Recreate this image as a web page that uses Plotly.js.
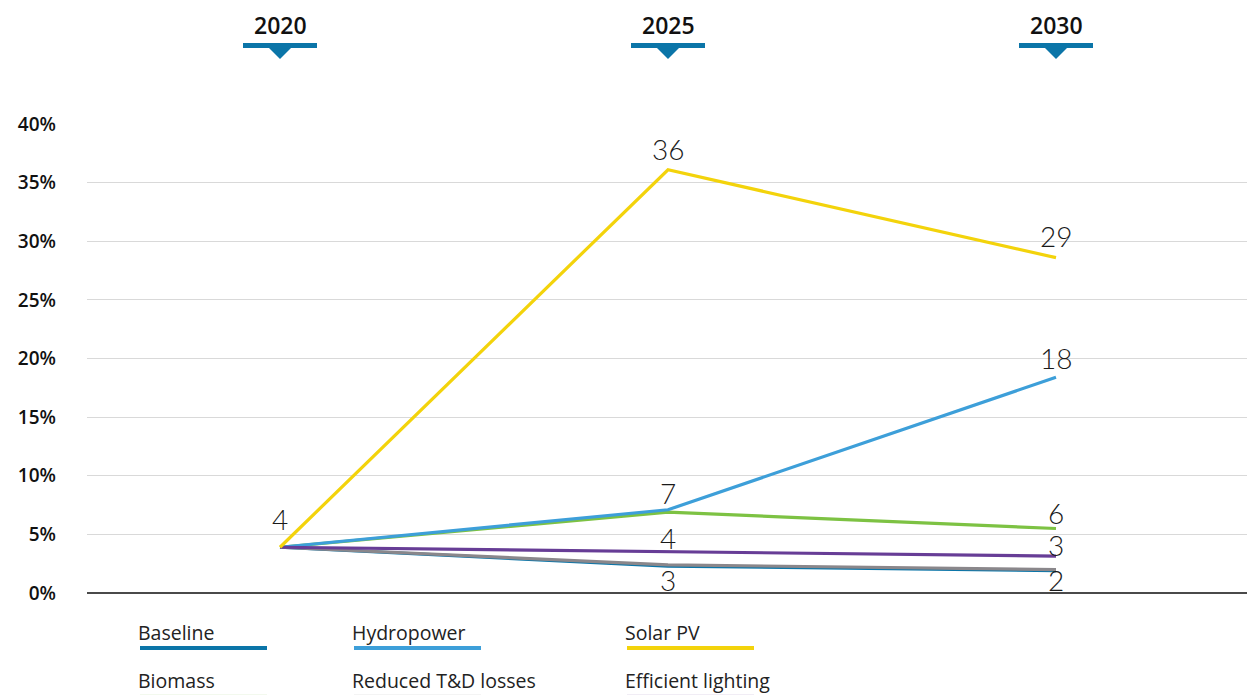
<!DOCTYPE html>
<html>
<head>
<meta charset="utf-8">
<script src="https://cdn.plot.ly/plotly-3.0.1.min.js"></script>
<style>html,body{margin:0;padding:0;background:#fff;}#chart{width:1247px;height:695px;}</style>
</head>
<body>
<div id="chart"></div>
<script>
// ---- data ----
const years = [2020, 2025, 2030];
const seriesNames = ["Baseline", "Reduced T&D losses", "Biomass", "Hydropower", "Efficient lighting", "Solar PV"];
const baseline = [3.9, 2.3, 1.9];
const tdLosses = [3.9, 2.4, 2.0];
const biomass = [3.9, 6.9, 5.5];
const hydropower = [3.9, 7.1, 18.4];
const efficientLighting = [3.9, 3.55, 3.15];
const solarPV = [3.9, 36.1, 28.6];
const baselineLabels = ["", "3", "2"];
const tdLabels = ["", "", ""];
const biomassLabels = ["", "", "6"];
const hydroLabels = ["", "7", "18"];
const lightingLabels = ["", "4", "3"];
const solarLabels = ["4", "36", "29"];
const yTicks = [0, 5, 10, 15, 20, 25, 30, 35, 40];
const yTickText = ["0%", "5%", "10%", "15%", "20%", "25%", "30%", "35%", "40%"];
const legendRows = [["Baseline", "Hydropower", "Solar PV"], ["Biomass", "Reduced T&D losses", "Efficient lighting"]];

// ---- styles ----
const colors = {
  "Baseline": "#0b75a8",
  "Reduced T&D losses": "#8a878b",
  "Biomass": "#7dc243",
  "Hydropower": "#3d9fd9",
  "Efficient lighting": "#673d96",
  "Solar PV": "#f3d30b"
};
const values = {
  "Baseline": baseline, "Reduced T&D losses": tdLosses, "Biomass": biomass,
  "Hydropower": hydropower, "Efficient lighting": efficientLighting, "Solar PV": solarPV
};
const labels = {
  "Baseline": baselineLabels, "Reduced T&D losses": tdLabels, "Biomass": biomassLabels,
  "Hydropower": hydroLabels, "Efficient lighting": lightingLabels, "Solar PV": solarLabels
};
// vertical pixel offset of each value label centre from its point (style, not data)
const labelShift = {
  "Baseline": [0, -14, -9], "Reduced T&D losses": [0, 0, 0], "Biomass": [0, 0, 16],
  "Hydropower": [0, 17, 19], "Efficient lighting": [0, 13, 11], "Solar PV": [28, 21, 22]
};

const labelFont = {family: "Lato, 'Open Sans', sans-serif", size: 28, color: "#1a1a1a", weight: 300};

const traces = seriesNames.map(n => ({
  x: years, y: values[n], type: "scatter", mode: "lines",
  name: n, line: {color: colors[n], width: 3.2}, hoverinfo: "skip"
}));

const L = 87, R = 1247, T = 124, B = 593;
const px = v => (v - L) / (R - L);
const py = v => (B - v) / (B - T);

const shapes = [];
const annotations = [];

// value labels
seriesNames.forEach(n => {
  labels[n].forEach((t, i) => {
    if (!t) return;
    annotations.push({x: years[i], y: values[n][i], xref: "x", yref: "y", text: t, showarrow: false,
      xanchor: "center", yanchor: "middle", yshift: labelShift[n][i], font: labelFont, borderpad: 0});
  });
});

// header year markers
const yrsPerPx = (2030 - 2020) / (1056 - 280);
years.forEach(yr => {
  annotations.push({x: yr, y: py(25), xref: "x", yref: "paper", text: String(yr), showarrow: false,
    font: {family: "'Open Sans', sans-serif", size: 23, color: "#111", weight: 600}, xanchor: "center", yanchor: "middle"});
  shapes.push({type: "line", xref: "x", yref: "paper", x0: yr - 37 * yrsPerPx, x1: yr + 37 * yrsPerPx,
    y0: py(45.5), y1: py(45.5), line: {color: "#0b75a8", width: 5}});
  const hw = 12 * yrsPerPx;
  shapes.push({type: "path", xref: "x", yref: "paper", fillcolor: "#0b75a8", line: {width: 0},
    path: `M ${yr - hw} ${py(47)} L ${yr + hw} ${py(47)} L ${yr} ${py(59)} Z`});
});

// custom legend: text above a coloured bar
const colX = [139, 353, 626];
const rowTextY = [632, 680];
const rowLineY = [648, 696.7];
const rowLineOpacity = [1, 0.35];
legendRows.forEach((row, r) => {
  row.forEach((name, c) => {
    annotations.push({x: px(colX[c] - 2), y: py(rowTextY[r]), xref: "paper", yref: "paper", text: name,
      showarrow: false, xanchor: "left", yanchor: "middle", borderpad: 0,
      font: {family: "'Open Sans', sans-serif", size: 19.5, color: "#222"}});
    shapes.push({type: "line", xref: "paper", yref: "paper", x0: px(colX[c] + 1), x1: px(colX[c] + 128),
      y0: py(rowLineY[r]), y1: py(rowLineY[r]), opacity: rowLineOpacity[r], line: {color: colors[name], width: 4}});
  });
});

const layout = {
  width: 1247, height: 695,
  margin: {l: L, r: 1247 - R, t: T, b: 695 - B, pad: 0},
  paper_bgcolor: "#fff", plot_bgcolor: "#fff",
  showlegend: false,
  xaxis: {range: [2020 - (280 - L) * yrsPerPx, 2030 + (R - 1056) * yrsPerPx], showgrid: false,
    showticklabels: false, zeroline: false, showline: false, ticks: ""},
  yaxis: {range: [0, 40], tickvals: yTicks, ticktext: yTickText, showgrid: true,
    gridcolor: "#d9d9d9", gridwidth: 1, zeroline: true, zerolinecolor: "#4a4a4a", zerolinewidth: 2,
    showline: false, ticks: "", ticklabelstandoff: 30,
    tickfont: {family: "'Open Sans', sans-serif", size: 19, color: "#111", weight: 600}},
  shapes: shapes, annotations: annotations
};

Plotly.newPlot("chart", traces, layout, {displayModeBar: false, staticPlot: true});
</script>
</body>
</html>
